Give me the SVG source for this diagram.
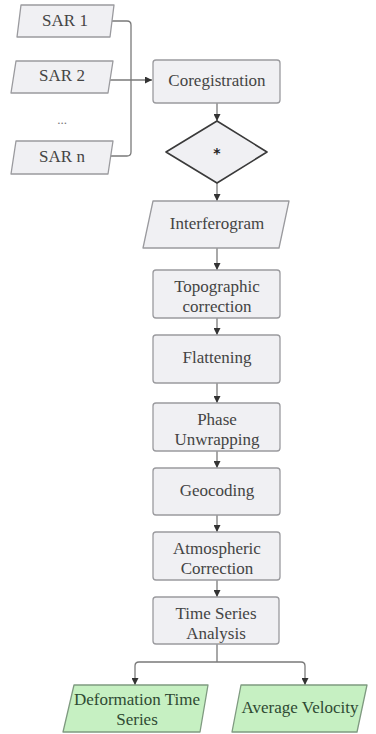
<svg xmlns="http://www.w3.org/2000/svg" width="376" height="734" viewBox="0 0 376 734">
<style>
.box{fill:#f0f0f3;stroke:#9a9a9e;stroke-width:1.3}
.green{fill:#c6f0c2;stroke:#7f9a80;stroke-width:1.3}
.dia{fill:#f0f0f3;stroke:#3a3a3a;stroke-width:1.6}
.t{font-family:"Liberation Serif",serif;font-size:17px;fill:#444;text-anchor:middle}
.g{font-family:"Liberation Serif",serif;font-size:17px;fill:#2f4a33;text-anchor:middle}
.c{fill:none;stroke:#7a7a7a;stroke-width:1.3}
</style>
<defs>
<marker id="ar" viewBox="0 0 10 10" refX="10" refY="5" markerWidth="7" markerHeight="7" markerUnits="userSpaceOnUse" orient="auto">
<path d="M0,0 L10,5 L0,10 z" fill="#333"/>
</marker>
</defs>
<rect width="376" height="734" fill="#fff"/>
<g id="connectors">
<path class="c" d="M111,21 H127 Q131,21 131,25 V152 Q131,156 127,156 H110"/>
<path class="c" d="M110,80 H152" marker-end="url(#ar)"/>
<path class="c" d="M217,103 V121" marker-end="url(#ar)"/>
<path class="c" d="M217,183 V201" marker-end="url(#ar)"/>
<path class="c" d="M217,248 V270" marker-end="url(#ar)"/>
<path class="c" d="M217,318 V335" marker-end="url(#ar)"/>
<path class="c" d="M217,383 V403" marker-end="url(#ar)"/>
<path class="c" d="M217,451 V468" marker-end="url(#ar)"/>
<path class="c" d="M217,515 V532" marker-end="url(#ar)"/>
<path class="c" d="M217,580 V597" marker-end="url(#ar)"/>
<path class="c" d="M217,644 V662 M139,662 H301 M135,666 Q135,662 139,662 M301,662 Q305,662 305,666"/>
<path class="c" d="M135,666 V685" marker-end="url(#ar)"/>
<path class="c" d="M305,666 V685" marker-end="url(#ar)"/>
</g>
<g id="sar1">
<path class="box" stroke-linejoin="round" d="M21,5 H114 L110,37 H17 Z"/>
<text class="t" x="65" y="26">SAR 1</text>
</g>
<g id="sar2">
<path class="box" stroke-linejoin="round" d="M16,61 H113 L108,93 H11 Z"/>
<text class="t" x="62" y="81">SAR 2</text>
</g>
<g id="dots">
<text class="t" x="62" y="124" style="font-size:13px;fill:#777">...</text>
</g>
<g id="sarn">
<path class="box" stroke-linejoin="round" d="M16,141 H113 L108,174 H11 Z"/>
<text class="t" x="62" y="162">SAR n</text>
</g>
<g id="coregistration">
<rect class="box" x="153" y="60" width="127" height="43" rx="3"/>
<text class="t" x="217" y="86">Coregistration</text>
</g>
<g id="decision">
<path class="dia" stroke-linejoin="round" d="M217,121 L267,152 L217,183 L166,152 Z"/>
<text x="217" y="158" text-anchor="middle" style="font-family:'DejaVu Sans',sans-serif;font-size:14px;font-weight:bold;fill:#222">*</text>
</g>
<g id="interferogram">
<path class="box" stroke-linejoin="round" d="M153,201 H289 L279,248 H143 Z"/>
<text class="t" x="217" y="229">Interferogram</text>
</g>
<g id="topographic">
<rect class="box" x="153" y="270" width="127" height="48" rx="3"/>
<text class="t" x="217" y="292">Topographic</text>
<text class="t" x="217" y="312">correction</text>
</g>
<g id="flattening">
<rect class="box" x="153" y="335" width="127" height="48" rx="3"/>
<text class="t" x="217" y="363">Flattening</text>
</g>
<g id="phase">
<rect class="box" x="153" y="403" width="127" height="48" rx="3"/>
<text class="t" x="217" y="425">Phase</text>
<text class="t" x="217" y="445">Unwrapping</text>
</g>
<g id="geocoding">
<rect class="box" x="153" y="468" width="127" height="47" rx="3"/>
<text class="t" x="217" y="496">Geocoding</text>
</g>
<g id="atmospheric">
<rect class="box" x="153" y="532" width="127" height="48" rx="3"/>
<text class="t" x="217" y="554">Atmospheric</text>
<text class="t" x="217" y="574">Correction</text>
</g>
<g id="timeseries">
<rect class="box" x="153" y="597" width="126" height="47" rx="3"/>
<text class="t" x="216" y="619">Time Series</text>
<text class="t" x="216" y="639">Analysis</text>
</g>
<g id="deformation">
<path class="green" stroke-linejoin="round" d="M74,685 H208 L200,732 H63 Z"/>
<text class="g" x="137" y="705">Deformation Time</text>
<text class="g" x="137" y="725">Series</text>
</g>
<g id="velocity">
<path class="green" stroke-linejoin="round" d="M241,685 H367 L357,732 H232 Z"/>
<text class="g" x="300" y="713">Average Velocity</text>
</g>
</svg>
